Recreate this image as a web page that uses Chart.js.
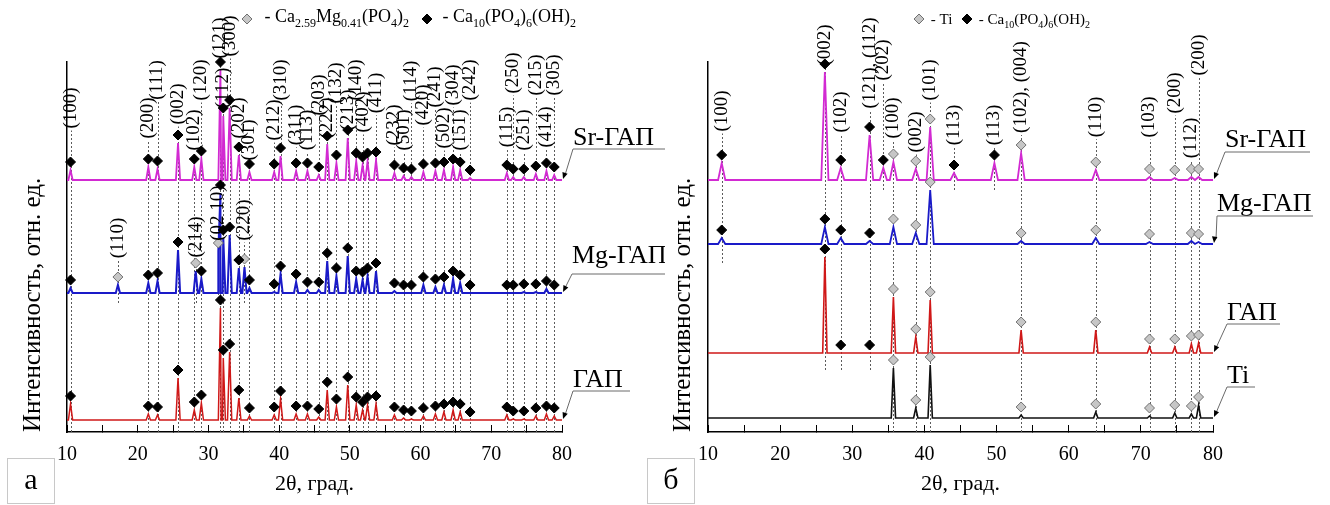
<!DOCTYPE html>
<html>
<head>
<meta charset="utf-8">
<script src="https://cdn.jsdelivr.net/npm/chart.js@4"></script>
<style>
  body { margin: 0; background: #fff; }
  #wrap { position: relative; width: 1330px; height: 505px; }
  .pane { position: absolute; top: 0; width: 665px; height: 505px; }
  .tag { position: absolute; top: 458px; width: 48px; height: 46px; border: 1px solid #c8c8c8; box-sizing: border-box;
         font: 30px "Liberation Serif", serif; text-align: center; line-height: 40px; }
</style>
</head>
<body>
<div id="wrap">
  <div class="pane" style="left:0"><canvas id="chartA" width="665" height="505"></canvas></div>
  <div class="pane" style="left:665px"><canvas id="chartB" width="665" height="505"></canvas></div>
  <div class="tag" style="left:7px">а</div>
  <div class="tag" style="left:647px">б</div>
</div>
<script>
// ---------- panel а : HAP, Mg-HAP, Sr-HAP ----------
const hapPosA = [10.5, 21.5, 22.8, 25.7, 28.0, 29.0, 31.7, 32.1, 33.0, 34.3, 35.8, 39.3, 40.2, 42.4, 44.0, 45.6, 46.8, 48.1, 49.7,
                 50.9, 51.8, 52.5, 53.7, 56.3, 57.6, 58.7, 60.4, 62.1, 63.3, 64.6, 65.6, 67.0, 72.2, 73.1, 74.6, 76.3, 77.8, 78.9];
const hklA = ['(100)', '(200)', '(111)', '(002)', '(102)', '(120)', '(121)', '(112)', '(300)', '(202)', '(301)', '(212)', '(310)',
              '(311)', '(113)', '(203)', '(222)', '(132)', '(213)', '(140)', '(402)', '', '(411)', '(232)', '(501)', '(114)',
              '(420)', '(241)', '(502)', '(304)', '(151)', '(242)', '(115)', '(250)', '(251)', '(215)', '(414)', '(305)'];
const srA  = [10, 13, 11, 37, 13, 21, 110, 64, 72, 25, 8, 8, 24, 9, 9, 5, 36, 17, 42, 19, 15, 19, 20, 7, 4, 3, 8, 9, 10, 13, 10, 2, 7, 3, 3, 6, 9, 5];
const mgA  = [5, 10, 12, 43, null, 14, 100, 55, 58, 25, 5, 1, 19, 11, 3, 3, 32, 17, 37, 14, 13, 17, 22, 2, 0, 0, 8, 6, 8, 14, 10, 0, 0, 0, 1, 1, 4, 0];
const gapA = [16, 6, 5, 42, 10, 17, 112, 62, 68, 22, 4, 5, 21, 6, 6, 3, 30, 13, 35, 15, 10, 15, 16, 5, 2, 1, 4, 6, 8, 10, 8, 0, 5, 1, 1, 4, 6, 4];
// Ca2.59Mg0.41(PO4)2 reflections in Mg-HAP
const mgPhasePosA = [17.2, 28.2, 31.4, 35.1];
const mgPhaseHklA = ['(110)', '(214)', '(02 10)', '(220)'];
const mgPhaseA = [8, 22, 42, 26];
const shiftA = { sr: 252, mg: 139, gap: 12 };

// ---------- panel б : Ti, HAP, Mg-HAP, Sr-HAP ----------
const hapPosB = [11.9, 26.2, 28.4, 32.4, 34.3, 44.1, 49.7];
const hklHapB = ['(100)', '(002)', '(102)', '(121), (112)', '(202)', '(113)', '(113)'];
const tiPosB = [35.7, 38.8, 40.8, 53.4, 63.75, 71.2, 74.7, 77.0, 78.0];
const hklTiB = ['(100)', '(002)', '(101)', '(102), (004)', '(110)', '(103)', '(200)', '(112)', '(200)'];
const srHapB  = [17, 108, 12, 45, 12, 7, 17];
const srTiB   = [18, 11, 53, 27, 10, 3, 2, 3, 3];
const mgHapB  = [6, 17, 6, 3, null, null, null];
const mgTiB   = [17, 11, 54, 3, 6, 2, null, 3, 2];
const gapHapB = [null, 96, 0, 0, null, null, null];
const gapTiB  = [56, 16, 53, 23, 23, 6, 6, 9, 10];
const tiTiB   = [50, 10, 53, 3, 6, 2, 5, 4, 13];
const shiftB = { sr: 252, mg: 188, gap: 79, ti: 14 };

// ---------- styling ----------
const SERIF = '"Liberation Serif", "Times New Roman", serif';
const C_SR = '#d22ad2', C_MG = '#1a1ac8', C_GAP = '#d01818', C_TI = '#111111';
const LIFT = 8;           // marker sits a little above the peak top
Chart.defaults.font.family = SERIF;
Chart.defaults.color = '#000';

function profile(pos, h, base, w) {
  const pts = [{ x: 10, y: base }, { x: 80, y: base }];
  pos.forEach((p, i) => {
    if (h[i] == null || h[i] <= 0) return;
    pts.push({ x: p - w, y: base }, { x: p, y: base + h[i] }, { x: p + w, y: base });
  });
  return pts.sort((a, b) => a.x - b.x);
}

function marks(pos, h, base) {
  const out = [];
  pos.forEach((p, i) => { if (h[i] != null) out.push({ x: p, y: base + h[i] + LIFT }); });
  return out;
}

function lineSet(data, color, width) {
  return { data, showLine: true, borderColor: color, borderWidth: width, pointRadius: 0, tension: 0, order: 2 };
}
function markSet(data, grey) {
  return {
    data, showLine: false, pointStyle: 'rectRot', pointRadius: 5, clip: false, order: 1,
    backgroundColor: grey ? '#c6c6c6' : '#000', borderColor: grey ? '#707070' : '#000', borderWidth: 1
  };
}

function drawRich(ctx, x, y, parts, size) {
  parts.forEach(([s, sub]) => {
    ctx.font = (sub ? Math.round(size * 0.66) : size) + 'px ' + SERIF;
    ctx.fillText(s, x, sub ? y + size * 0.28 : y);
    x += ctx.measureText(s).width;
  });
}

function diamond(ctx, x, y, r, grey) {
  ctx.beginPath();
  ctx.moveTo(x, y - r); ctx.lineTo(x + r, y); ctx.lineTo(x, y + r); ctx.lineTo(x - r, y); ctx.closePath();
  ctx.fillStyle = grey ? '#c6c6c6' : '#000'; ctx.fill();
  ctx.strokeStyle = grey ? '#707070' : '#000'; ctx.lineWidth = 1; ctx.stroke();
}

// guides: dotted reflection lines with rotated hkl labels
// tags: curve names with leader lines; legend: phase key at the top
function decor(opts) {
  return {
    id: 'decor',
    beforeDatasetsDraw(chart) {
      const { ctx, scales: { x, y } } = chart;
      ctx.save();
      ctx.font = '19px ' + SERIF;
      ctx.strokeStyle = '#5c5c5c'; ctx.lineWidth = 1; ctx.setLineDash([2, 2]);
      opts.guides.forEach(g => {
        const px = Math.round(x.getPixelForValue(g.x)) + 0.5;
        const half = g.text ? ctx.measureText(g.text).width / 2 : 0;
        ctx.beginPath();
        ctx.moveTo(px, y.getPixelForValue(g.from));
        ctx.lineTo(px, g.cy + half + 2);
        ctx.stroke();
      });
      ctx.restore();
    },
    afterDraw(chart) {
      const { ctx, scales: { x, y } } = chart;
      ctx.save();
      ctx.fillStyle = '#000';
      ctx.font = '19px ' + SERIF;
      ctx.textAlign = 'center'; ctx.textBaseline = 'middle';
      opts.guides.forEach(g => {
        if (!g.text) return;
        ctx.save();
        ctx.translate(x.getPixelForValue(g.x), g.cy);
        ctx.rotate(-Math.PI / 2);
        ctx.fillText(g.text, 0, 0);
        ctx.restore();
      });

      ctx.textAlign = 'left'; ctx.textBaseline = 'alphabetic';
      opts.tags.forEach(t => {
        const ex = x.getPixelForValue(80), ey = y.getPixelForValue(t.base);
        ctx.font = '26px ' + SERIF; ctx.fillStyle = '#000';
        ctx.fillText(t.text, t.tx, t.ty);
        ctx.strokeStyle = '#6a6a6a'; ctx.lineWidth = 1;
        ctx.beginPath();
        ctx.moveTo(t.ux2, t.uy); ctx.lineTo(t.tx, t.uy); ctx.lineTo(ex + 3, ey - 5);
        ctx.stroke();
        const ang = Math.atan2(ey - 1 - t.uy, ex + 1 - t.tx);
        ctx.beginPath();
        ctx.moveTo(ex + 1, ey - 1);
        ctx.lineTo(ex + 1 - 7 * Math.cos(ang - 0.4), ey - 1 - 7 * Math.sin(ang - 0.4));
        ctx.lineTo(ex + 1 - 7 * Math.cos(ang + 0.4), ey - 1 - 7 * Math.sin(ang + 0.4));
        ctx.closePath(); ctx.fill();
      });

      opts.legend.forEach(l => {
        diamond(ctx, l.dx, l.dy, 5, l.grey);
        ctx.fillStyle = '#000';
        drawRich(ctx, l.tx, l.ty, l.parts, l.size);
      });
      ctx.restore();
    }
  };
}

function baseOptions(padLeft, padRight, yWidth) {
  return {
    responsive: false,
    animation: false,
    layout: { padding: { left: padLeft, right: padRight, top: 62, bottom: 0 } },
    plugins: { legend: { display: false }, tooltip: { enabled: false } },
    scales: {
      x: {
        type: 'linear', min: 10, max: 80,
        afterFit: s => { s.height = 73; },
        ticks: { stepSize: 5, autoSkip: false, maxRotation: 0, padding: 18, color: '#000',
                 font: { size: 20, family: SERIF }, callback: v => (v % 10 === 0 ? v : '') },
        grid: { drawOnChartArea: false, drawTicks: true, tickLength: -7, color: '#000', lineWidth: 1 },
        border: { color: '#000', width: 1.5 },
        title: { display: true, text: '2θ, град.', color: '#000', font: { size: 22, family: SERIF },
                 padding: { top: 0, bottom: 8 } }
      },
      y: {
        min: 0, max: 370,
        afterFit: s => { s.width = yWidth; },
        ticks: { display: false },
        grid: { display: false },
        border: { color: '#000', width: 1.5 },
        title: { display: true, text: 'Интенсивность, отн. ед.', align: 'start', color: '#000',
                 font: { size: 25, family: SERIF }, padding: 0 }
      }
    }
  };
}

// ----- chart а -----
const hklYA = [108, 118, 80, 104, 130, 80, 38, 88, 36, 118, 140, 120, 80, 125, 130, 95, 118, 83, 110, 80, 112, 150, 93,
               125, 130, 81, 105, 87, 128, 85, 130, 80, 127, 73, 130, 75, 127, 75];
const guidesA = hapPosA.map((p, i) => ({ x: p, text: hklA[i], cy: hklYA[i], from: 0 }))
  .concat(mgPhasePosA.map((p, i) => ({ x: p, text: mgPhaseHklA[i], cy: [238, 237, 213, 220][i], from: 129 })));

const optsA = baseOptions(18, 103, 49);
new Chart(document.getElementById('chartA'), {
  type: 'scatter',
  data: {
    datasets: [
      lineSet(profile(hapPosA, srA, shiftA.sr, 0.3), C_SR, 1.8),
      lineSet(profile(hapPosA.concat(mgPhasePosA), mgA.concat(mgPhaseA), shiftA.mg, 0.3), C_MG, 2),
      lineSet(profile(hapPosA, gapA, shiftA.gap, 0.3), C_GAP, 1.5),
      markSet(marks(hapPosA, srA, shiftA.sr).concat(marks(hapPosA, mgA, shiftA.mg), marks(hapPosA, gapA, shiftA.gap)), false),
      markSet(marks(mgPhasePosA, mgPhaseA, shiftA.mg), true)
    ]
  },
  options: optsA,
  plugins: [decor({
    guides: guidesA,
    tags: [
      { text: 'Sr-ГАП', base: shiftA.sr, tx: 573, ty: 145, ux2: 667, uy: 149 },
      { text: 'Mg-ГАП', base: shiftA.mg, tx: 572, ty: 263, ux2: 667, uy: 274 },
      { text: 'ГАП', base: shiftA.gap, tx: 573, ty: 387, ux2: 630, uy: 391 }
    ],
    legend: [
      { grey: true, dx: 247, dy: 19, tx: 260, ty: 22, size: 18,
        parts: [[' - Ca'], ['2.59', 1], ['Mg'], ['0.41', 1], ['(PO'], ['4', 1], [')'], ['2', 1]] },
      { grey: false, dx: 427, dy: 19, tx: 438, ty: 22, size: 18,
        parts: [[' - Ca'], ['10', 1], ['(PO'], ['4', 1], [')'], ['6', 1], ['(OH)'], ['2', 1]] }
    ]
  })]
});

// ----- chart б -----
const hklYHapB = [111, 45, 112, 63, 60, 125, 125];
const fromHapB = [169, 62, 62, 62, 242, 242, 242];
const hklYTiB = [118, 132, 80, 87, 117, 117, 93, 138, 55];
const guidesB = hapPosB.map((p, i) => ({ x: p, text: hklHapB[i], cy: hklYHapB[i], from: fromHapB[i] }))
  .concat(tiPosB.map((p, i) => ({ x: p, text: hklTiB[i], cy: hklYTiB[i], from: 0 })));

const optsB = baseOptions(3, 117, 40);
const allPosB = hapPosB.concat(tiPosB);
new Chart(document.getElementById('chartB'), {
  type: 'scatter',
  data: {
    datasets: [
      lineSet(profile(allPosB, srHapB.concat(srTiB), shiftB.sr, 0.5), C_SR, 1.8),
      lineSet(profile(allPosB, mgHapB.concat(mgTiB), shiftB.mg, 0.5), C_MG, 1.8),
      lineSet(profile(allPosB, gapHapB.concat(gapTiB), shiftB.gap, 0.3), C_GAP, 1.6),
      lineSet(profile(tiPosB, tiTiB, shiftB.ti, 0.3), C_TI, 1.6),
      markSet(marks(hapPosB, srHapB, shiftB.sr).concat(marks(hapPosB, mgHapB, shiftB.mg), marks(hapPosB, gapHapB, shiftB.gap)), false),
      markSet(marks(tiPosB, srTiB, shiftB.sr).concat(marks(tiPosB, mgTiB, shiftB.mg), marks(tiPosB, gapTiB, shiftB.gap),
              marks(tiPosB, tiTiB, shiftB.ti)), true)
    ]
  },
  options: optsB,
  plugins: [decor({
    guides: guidesB,
    tags: [
      { text: 'Sr-ГАП', base: shiftB.sr, tx: 560, ty: 147, ux2: 645, uy: 152 },
      { text: 'Mg-ГАП', base: shiftB.mg, tx: 552, ty: 211, ux2: 648, uy: 216 },
      { text: 'ГАП', base: shiftB.gap, tx: 562, ty: 320, ux2: 615, uy: 324 },
      { text: 'Ti', base: shiftB.ti, tx: 562, ty: 383, ux2: 590, uy: 387 }
    ],
    legend: [
      { grey: true, dx: 254, dy: 19, tx: 262, ty: 24, size: 15, parts: [[' - Ti']] },
      { grey: false, dx: 302, dy: 19, tx: 310, ty: 24, size: 15,
        parts: [[' - Ca'], ['10', 1], ['(PO'], ['4', 1], [')'], ['6', 1], ['(OH)'], ['2', 1]] }
    ]
  })]
});
</script>
</body>
</html>
